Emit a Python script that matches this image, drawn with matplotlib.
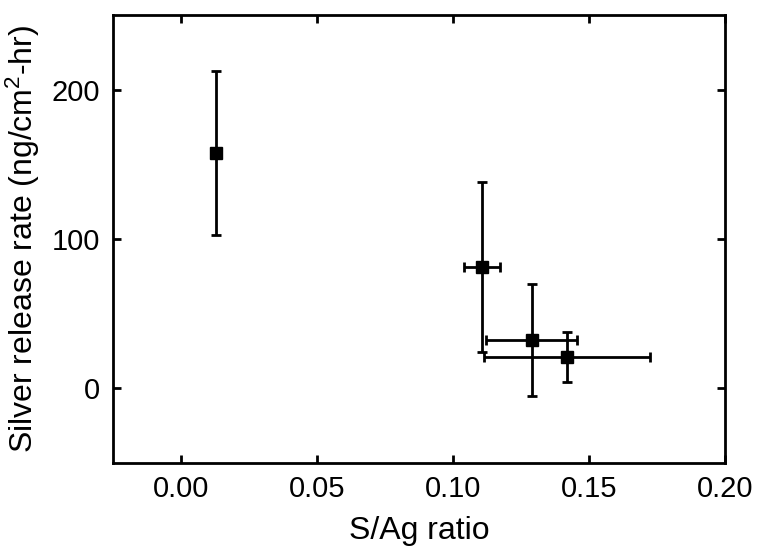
import matplotlib.pyplot as plt

plt.rcParams["font.family"] = ["Liberation Sans", "DejaVu Sans"]
plt.rcParams["mathtext.default"] = "regular"

# S/Ag ratio vs silver release rate, with error bars
s_ag_ratio = [0.013, 0.1105, 0.1289, 0.1419]
s_ag_err = [0.0, 0.0066, 0.0168, 0.0304]
release_rate = [157.5, 81.1, 31.9, 20.8]
release_err = [55.0, 57.0, 37.6, 16.8]

x_ticks = [0.00, 0.05, 0.10, 0.15, 0.20]
y_ticks = [0, 100, 200]


def main():
    fig = plt.figure(figsize=(7.57, 5.52), dpi=100)
    ax = fig.add_axes([0.149, 0.162, 0.809, 0.811])

    ax.errorbar(
        s_ag_ratio,
        release_rate,
        xerr=s_ag_err,
        yerr=release_err,
        fmt="s",
        color="black",
        markersize=9,
        elinewidth=2,
        capsize=3.3,
        capthick=2,
    )

    ax.set_xlim(-0.025, 0.2)
    ax.set_ylim(-50, 250)
    ax.set_xticks(x_ticks)
    ax.set_xticklabels([f"{t:.2f}" for t in x_ticks])
    ax.set_yticks(y_ticks)

    for spine in ax.spines.values():
        spine.set_linewidth(2)

    ax.tick_params(
        direction="in",
        length=5.5,
        width=2,
        labelsize=21,
        top=True,
        right=True,
    )
    ax.tick_params(axis="x", pad=9)
    ax.tick_params(axis="y", pad=9)

    ax.set_xlabel("S/Ag ratio", fontsize=23, labelpad=9)
    ax.set_ylabel("Silver release rate (ng/cm$^2$-hr)", fontsize=23, labelpad=7)

    fig.savefig("out.png", dpi=100)


if __name__ == "__main__":
    main()
